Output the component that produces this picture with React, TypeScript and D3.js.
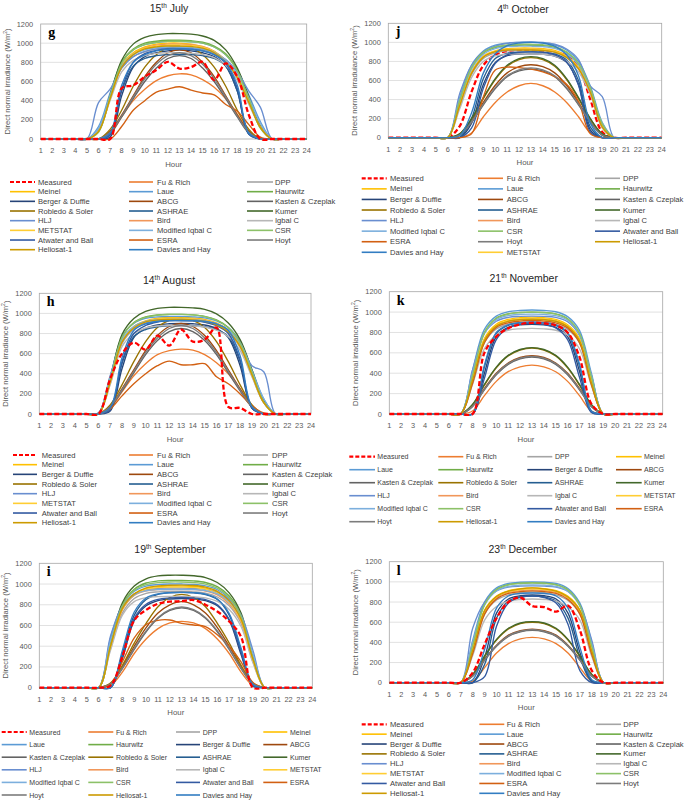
import React from "react";
import * as d3 from "d3";

const hours = [1, 2, 3, 4, 5, 6, 7, 8, 9, 10, 11, 12, 13, 14, 15, 16, 17, 18, 19, 20, 21, 22, 23, 24];
const yTicks = [0, 200, 400, 600, 800, 1000, 1200];
const gridValues = [200, 400, 600, 800, 1000];

const seriesNames = [
  "Measured", "Fu & Rich", "DPP", "Meinel", "Laue", "Haurwitz", "Berger & Duffie", "ABCG",
  "Kasten & Czeplak", "Robledo & Soler", "ASHRAE", "Kumer", "HLJ", "Bird", "Igbal C", "METSTAT",
  "Modified Iqbal C", "CSR", "Atwater and Ball", "ESRA", "Hoyt", "Heliosat-1", "Davies and Hay",
];
const seriesColors = [
  "#FF0000", "#ED7D31", "#A5A5A5", "#FFC000", "#5B9BD5", "#70AD47", "#264478", "#9E480E",
  "#636363", "#997300", "#255E91", "#43682B", "#698ED0", "#F1975A", "#B7B7B7", "#FFCD33",
  "#7CAFDD", "#8CC168", "#335AA1", "#D26012", "#7C7C7C", "#CC9A00", "#327DC2",
];
const legendOrderMain = seriesNames;
const legendOrderOctober = [
  "Measured", "Fu & Rich", "DPP", "Meinel", "Laue", "Haurwitz", "Berger & Duffie", "ABCG",
  "Kasten & Czeplak", "Robledo & Soler", "ASHRAE", "Kumer", "HLJ", "Bird", "Igbal C",
  "Modified Iqbal C", "CSR", "Atwater and Ball", "ESRA", "Hoyt", "Heliosat-1", "Davies and Hay", "METSTAT",
];

// 15th July (g) — rows in seriesNames order
const julyValues = [
  [0,0,0,0,0,0,0,530,560,650,720,805,735,750,805,615,790,650,250,0,0,0,0,0],
  [0,0,0,0,0,0,50,230,400,520,610,660,680,670,620,540,420,260,80,0,0,0,0,0],
  [0,0,0,0,0,100,430,740,860,910,940,950,950,945,930,890,800,640,380,130,0,0,0,0],
  [0,0,0,0,0,90,440,770,900,960,990,1000,1000,990,965,915,820,660,400,140,0,0,0,0],
  [0,0,0,0,0,130,480,800,930,985,1010,1020,1020,1015,1000,960,880,720,460,180,0,0,0,0],
  [0,0,0,0,0,80,450,800,940,1000,1020,1030,1030,1025,1010,970,890,720,430,120,0,0,0,0],
  [0,0,0,0,0,0,20,450,750,860,900,920,930,920,900,860,760,500,60,0,0,0,0,0],
  [0,0,0,0,0,0,80,250,450,650,800,900,930,900,800,650,450,250,80,0,0,0,0,0],
  [0,0,0,0,0,0,60,230,420,600,740,840,870,840,740,600,420,230,60,0,0,0,0,0],
  [0,0,0,0,0,0,100,300,550,750,880,950,960,950,880,750,550,300,100,0,0,0,0,0],
  [0,0,0,0,0,0,50,500,760,840,870,880,880,880,870,840,760,500,50,0,0,0,0,0],
  [0,0,0,0,0,90,460,820,990,1060,1090,1100,1100,1095,1075,1030,930,740,440,130,0,0,0,0],
  [0,0,0,0,0,380,520,740,860,915,940,950,950,945,935,900,830,700,500,330,0,0,0,0],
  [0,0,0,0,0,80,420,760,890,950,980,990,990,985,965,915,815,650,390,120,0,0,0,0],
  [0,0,0,0,0,90,400,700,820,870,893,900,900,895,882,850,770,610,360,120,0,0,0,0],
  [0,0,0,0,0,80,420,760,890,945,970,980,980,975,958,910,815,650,390,120,0,0,0,0],
  [0,0,0,0,0,110,460,760,880,930,952,960,960,955,942,905,820,680,430,160,0,0,0,0],
  [0,0,0,0,0,70,440,790,930,985,1008,1018,1020,1015,1000,960,880,710,420,110,0,0,0,0],
  [0,0,0,0,0,0,40,520,800,890,925,940,940,935,920,880,790,530,50,0,0,0,0,0],
  [0,0,0,0,0,0,0,130,300,400,490,520,545,510,480,460,360,290,150,20,0,0,0,0],
  [0,0,0,0,0,0,70,240,440,630,780,870,900,870,780,630,440,240,70,0,0,0,0,0],
  [0,0,0,0,0,80,420,750,880,940,962,970,970,965,948,900,805,640,380,120,0,0,0,0],
  [0,0,0,0,0,0,60,560,800,880,920,935,940,935,920,880,800,560,60,0,0,0,0,0],
];

// 4th October (j)
const octoberValues = [
  [0,0,0,0,0,0,120,480,760,870,910,920,920,915,900,860,740,400,60,0,0,0,0,0],
  [0,0,0,0,0,0,0,50,220,370,480,545,570,545,480,370,220,50,0,0,0,0,0,0],
  [0,0,0,0,0,0,330,660,830,890,912,920,920,915,895,840,720,470,110,0,0,0,0,0],
  [0,0,0,0,0,0,340,690,855,910,933,940,940,935,915,860,740,490,120,0,0,0,0,0],
  [0,0,0,0,0,0,420,760,910,970,992,1000,1000,995,975,920,800,540,160,0,0,0,0,0],
  [0,0,0,0,0,0,380,730,890,945,965,970,970,966,947,893,775,515,140,0,0,0,0,0],
  [0,0,0,0,0,0,0,150,560,790,860,878,880,876,855,790,560,80,0,0,0,0,0,0],
  [0,0,0,0,0,0,30,170,370,550,680,745,765,745,680,550,370,170,30,0,0,0,0,0],
  [0,0,0,0,0,0,25,160,345,515,640,700,720,700,640,515,345,160,25,0,0,0,0,0],
  [0,0,0,0,0,0,40,195,410,610,750,820,840,820,750,610,410,195,40,0,0,0,0,0],
  [0,0,0,0,0,0,0,200,620,830,885,898,900,897,878,815,600,110,0,0,0,0,0,0],
  [0,0,0,0,0,0,40,200,420,620,760,830,850,830,760,620,420,200,40,0,0,0,0,0],
  [0,0,0,0,0,0,460,760,900,960,990,1000,1005,1000,980,930,820,540,430,0,0,0,0,0],
  [0,0,0,0,0,0,340,680,850,905,924,930,930,925,905,850,730,480,115,0,0,0,0,0],
  [0,0,0,0,0,0,300,630,800,858,875,880,880,875,857,805,690,450,100,0,0,0,0,0],
  [0,0,0,0,0,0,345,685,852,908,926,932,930,926,905,850,732,483,117,0,0,0,0,0],
  [0,0,0,0,0,0,400,720,875,935,955,960,960,955,936,882,765,510,150,0,0,0,0,0],
  [0,0,0,0,0,0,390,735,895,952,973,980,980,975,955,900,780,520,145,0,0,0,0,0],
  [0,0,0,0,0,0,0,100,520,780,870,895,900,895,868,795,550,60,0,0,0,0,0,0],
  [0,0,0,0,0,0,0,40,430,710,740,735,720,690,640,560,380,40,0,0,0,0,0,0],
  [0,0,0,0,0,0,28,165,355,525,650,712,732,712,650,525,355,165,28,0,0,0,0,0],
  [0,0,0,0,0,0,335,675,845,902,920,920,920,915,897,843,725,475,112,0,0,0,0,0],
  [0,0,0,0,0,0,20,260,680,880,965,993,1000,993,960,870,650,150,0,0,0,0,0,0],
];

// 14th August (h)
const augustValues = [
  [0,0,0,0,0,0,350,600,710,640,780,680,840,720,740,860,70,60,0,0,0,0,0,0],
  [0,0,0,0,0,0,60,220,380,500,590,630,645,635,590,510,400,250,90,0,0,0,0,0],
  [0,0,0,0,0,0,300,700,840,900,925,930,930,925,912,880,810,660,380,110,0,0,0,0],
  [0,0,0,0,0,0,320,730,870,925,952,960,960,955,940,905,835,690,400,120,0,0,0,0],
  [0,0,0,0,0,10,370,770,900,950,965,970,970,966,955,925,860,720,440,150,0,0,0,0],
  [0,0,0,0,0,0,340,760,910,965,985,990,990,985,970,935,860,710,420,120,0,0,0,0],
  [0,0,0,0,0,0,30,450,760,850,885,897,900,897,885,850,760,480,60,0,0,0,0,0],
  [0,0,0,0,0,0,80,250,440,630,780,870,900,870,780,630,440,250,80,0,0,0,0,0],
  [0,0,0,0,0,0,70,230,410,590,730,820,850,820,730,590,410,230,70,0,0,0,0,0],
  [0,0,0,0,0,0,90,290,520,720,860,930,950,930,860,720,520,290,90,0,0,0,0,0],
  [0,0,0,0,0,0,50,500,770,840,868,878,880,878,868,840,770,520,60,0,0,0,0,0],
  [0,0,0,0,0,0,360,790,950,1020,1050,1060,1060,1055,1040,995,905,740,440,130,0,0,0,0],
  [0,0,0,0,0,10,380,720,850,905,925,930,930,928,920,895,835,710,480,420,0,0,0,0],
  [0,0,0,0,0,0,320,720,860,920,944,950,950,946,932,895,825,680,395,115,0,0,0,0],
  [0,0,0,0,0,0,290,670,800,855,875,880,880,876,865,835,770,630,370,110,0,0,0,0],
  [0,0,0,0,0,0,320,720,860,918,942,950,950,946,930,893,823,678,393,115,0,0,0,0],
  [0,0,0,0,0,10,360,740,870,920,936,940,940,937,926,898,835,700,430,150,0,0,0,0],
  [0,0,0,0,0,0,340,760,905,960,982,990,990,985,968,932,858,708,418,118,0,0,0,0],
  [0,0,0,0,0,0,40,520,800,880,915,928,930,928,915,880,800,540,60,0,0,0,0,0],
  [0,0,0,0,0,0,50,180,300,400,480,525,490,490,500,370,300,200,80,10,0,0,0,0],
  [0,0,0,0,0,0,75,240,425,610,755,850,880,850,755,610,425,240,75,0,0,0,0,0],
  [0,0,0,0,0,0,315,715,855,915,935,940,940,936,922,887,817,672,390,112,0,0,0,0],
  [0,0,0,0,0,0,60,560,830,895,920,928,930,928,920,895,830,580,70,0,0,0,0,0],
];

// 21th November (k)
const novemberValues = [
  [0,0,0,0,0,0,0,0,600,760,840,880,895,890,870,800,560,100,0,0,0,0,0,0],
  [0,0,0,0,0,0,0,30,180,320,415,463,480,463,415,320,180,30,0,0,0,0,0,0],
  [0,0,0,0,0,0,0,320,700,835,880,896,900,896,880,830,700,300,0,0,0,0,0,0],
  [0,0,0,0,0,0,0,340,740,880,928,945,950,945,928,876,740,320,0,0,0,0,0,0],
  [0,0,0,0,0,0,0,430,830,960,1003,1016,1020,1016,1003,955,820,400,0,0,0,0,0,0],
  [0,0,0,0,0,0,0,390,800,940,983,996,1000,996,983,935,790,370,0,0,0,0,0,0],
  [0,0,0,0,0,0,0,0,400,760,850,875,880,875,850,760,420,20,0,0,0,0,0,0],
  [0,0,0,0,0,0,0,80,250,400,500,555,572,555,500,400,250,80,0,0,0,0,0,0],
  [0,0,0,0,0,0,0,72,238,385,487,542,558,542,487,385,238,72,0,0,0,0,0,0],
  [0,0,0,0,0,0,0,90,283,452,570,628,648,628,570,452,283,90,0,0,0,0,0,0],
  [0,0,0,0,0,0,0,0,460,790,870,894,900,894,870,790,470,30,0,0,0,0,0,0],
  [0,0,0,0,0,0,0,95,290,460,575,633,652,633,575,460,290,95,0,0,0,0,0,0],
  [0,0,0,0,0,0,0,430,790,910,948,958,960,958,948,905,770,380,0,0,0,0,0,0],
  [0,0,0,0,0,0,0,330,720,860,908,925,930,925,908,855,720,310,0,0,0,0,0,0],
  [0,0,0,0,0,0,0,290,640,775,822,836,840,836,822,772,640,280,0,0,0,0,0,0],
  [0,0,0,0,0,0,0,340,730,870,918,935,940,935,918,866,730,315,0,0,0,0,0,0],
  [0,0,0,0,0,0,0,400,790,925,965,977,980,977,965,920,780,380,0,0,0,0,0,0],
  [0,0,0,0,0,0,0,380,795,940,980,995,1000,995,980,932,790,365,0,0,0,0,0,0],
  [0,0,0,0,0,0,0,0,350,730,845,880,890,880,845,730,360,15,0,0,0,0,0,0],
  [0,0,0,0,0,0,0,300,700,850,895,912,920,912,895,845,700,290,0,0,0,0,0,0],
  [0,0,0,0,0,0,0,75,243,392,494,548,565,548,494,392,243,75,0,0,0,0,0,0],
  [0,0,0,0,0,0,0,330,720,862,910,926,930,926,910,858,720,305,0,0,0,0,0,0],
  [0,0,0,0,0,0,0,0,480,800,875,895,900,895,875,800,490,30,0,0,0,0,0,0],
];

// 19th September (i)
const septemberValues = [
  [0,0,0,0,0,0,20,300,650,750,810,830,835,845,800,735,640,490,0,0,0,0,0,0],
  [0,0,0,0,0,0,20,150,330,470,570,625,640,625,570,470,330,150,20,0,0,0,0,0],
  [0,0,0,0,0,0,380,720,860,910,925,930,930,925,912,875,790,620,250,0,0,0,0,0],
  [0,0,0,0,0,0,400,760,900,955,975,980,980,976,960,920,830,650,270,0,0,0,0,0],
  [0,0,0,0,0,0,480,800,930,980,995,1000,1000,996,982,945,860,690,320,0,0,0,0,0],
  [0,0,0,0,0,0,420,800,950,1010,1030,1035,1035,1030,1015,975,885,700,290,0,0,0,0,0],
  [0,0,0,0,0,0,0,280,650,790,840,856,860,856,840,790,650,320,20,0,0,0,0,0],
  [0,0,0,0,0,0,40,200,400,580,720,800,830,800,720,580,400,200,40,0,0,0,0,0],
  [0,0,0,0,0,0,35,185,370,540,670,745,770,745,670,540,370,185,35,0,0,0,0,0],
  [0,0,0,0,0,0,45,215,430,620,780,870,900,870,780,620,430,215,45,0,0,0,0,0],
  [0,0,0,0,0,0,0,330,700,850,900,916,920,916,898,850,700,360,25,0,0,0,0,0],
  [0,0,0,0,0,0,430,820,980,1050,1078,1085,1085,1080,1062,1015,915,720,300,0,0,0,0,0],
  [0,0,0,0,0,0,500,790,905,945,958,960,960,957,948,920,850,700,360,0,0,0,0,0],
  [0,0,0,0,0,0,390,750,890,935,946,950,950,946,932,895,810,640,265,0,0,0,0,0],
  [0,0,0,0,0,0,360,700,830,868,878,880,880,877,866,832,755,590,240,0,0,0,0,0],
  [0,0,0,0,0,0,395,760,900,950,965,970,970,966,951,912,825,648,268,0,0,0,0,0],
  [0,0,0,0,0,0,450,770,895,935,947,950,950,947,937,905,830,670,320,0,0,0,0,0],
  [0,0,0,0,0,0,410,790,940,995,1013,1020,1020,1015,1000,960,870,690,285,0,0,0,0,0],
  [0,0,0,0,0,0,0,300,670,805,852,866,870,866,850,800,660,340,20,0,0,0,0,0],
  [0,0,0,0,0,0,30,250,480,610,650,653,620,605,590,510,400,250,50,0,0,0,0,0],
  [0,0,0,0,0,0,38,190,378,548,678,752,778,752,678,548,378,190,38,0,0,0,0,0],
  [0,0,0,0,0,0,400,765,905,963,982,988,990,986,970,930,840,660,275,0,0,0,0,0],
  [0,0,0,0,0,0,0,360,730,865,905,917,920,917,902,855,715,380,30,0,0,0,0,0],
];

// 23th December (l)
const decemberValues = [
  [0,0,0,0,0,0,0,100,380,640,800,845,760,750,705,765,520,120,0,0,0,0,0,0],
  [0,0,0,0,0,0,0,15,150,295,388,435,450,435,388,295,150,15,0,0,0,0,0,0],
  [0,0,0,0,0,0,0,300,680,820,870,893,900,893,870,815,680,290,0,0,0,0,0,0],
  [0,0,0,0,0,0,0,320,720,860,912,933,940,933,912,856,720,310,0,0,0,0,0,0],
  [0,0,0,0,0,0,0,420,800,940,985,997,1000,997,985,935,790,400,0,0,0,0,0,0],
  [0,0,0,0,0,0,0,380,780,925,972,986,990,986,972,920,770,370,0,0,0,0,0,0],
  [0,0,0,0,0,0,0,0,250,690,830,862,870,862,830,690,300,20,0,0,0,0,0,0],
  [0,0,0,0,0,0,0,70,232,372,472,517,532,517,472,372,232,70,0,0,0,0,0,0],
  [0,0,0,0,0,0,0,65,222,362,460,505,520,505,460,362,222,65,0,0,0,0,0,0],
  [0,0,0,0,0,0,0,80,260,422,532,586,600,586,532,422,260,80,0,0,0,0,0,0],
  [0,0,0,0,0,0,0,0,180,640,810,850,860,850,810,640,250,10,0,0,0,0,0,0],
  [0,0,0,0,0,0,0,82,265,430,540,592,605,592,540,430,265,82,0,0,0,0,0,0],
  [0,0,0,0,0,0,0,540,800,910,948,958,960,958,948,905,770,420,0,0,0,0,0,0],
  [0,0,0,0,0,0,0,310,700,843,895,914,920,914,895,838,700,300,0,0,0,0,0,0],
  [0,0,0,0,0,0,0,270,620,755,808,825,830,825,808,750,620,260,0,0,0,0,0,0],
  [0,0,0,0,0,0,0,315,710,850,903,923,930,923,903,846,710,305,0,0,0,0,0,0],
  [0,0,0,0,0,0,0,400,770,910,955,967,970,967,955,905,760,380,0,0,0,0,0,0],
  [0,0,0,0,0,0,0,370,775,922,970,984,990,984,970,918,765,360,0,0,0,0,0,0],
  [0,0,0,0,0,0,0,0,60,560,790,845,858,845,790,580,120,0,0,0,0,0,0,0],
  [0,0,0,0,0,0,0,290,680,830,885,903,910,903,885,825,680,280,0,0,0,0,0,0],
  [0,0,0,0,0,0,0,67,226,367,465,510,525,510,465,367,226,67,0,0,0,0,0,0],
  [0,0,0,0,0,0,0,320,715,855,908,930,940,930,908,850,715,310,0,0,0,0,0,0],
  [0,0,0,0,0,0,0,30,330,740,860,885,890,885,860,740,350,30,0,0,0,0,0,0],
];

const yLabelStd = "Direct normal irradiance (W/m";
const yLabelOct = "Direct normal irraduiance (W/m";

const panels = [
  { id: "g", left: 40.7, top: 24, right: 306.7, bottom: 139, titleX: 169, titleY: 8, title: ["15", "th", " July"], yLabel: yLabelStd, data: julyValues, measuredOnTop: true,
    legend: { y0: 182, dy: 9.67, fs: 7.6, order: legendOrderMain, cols: [[10, 35, 38], [129, 153, 157], [247, 273, 275]] } },
  { id: "j", left: 388.3, top: 23.3, right: 661.7, bottom: 137.7, titleX: 523, titleY: 9.3, title: ["4", "th", " October"], yLabel: yLabelOct, data: octoberValues, measuredOnTop: false,
    legend: { y0: 178.3, dy: 10.57, fs: 7.6, order: legendOrderOctober, cols: [[361.7, 386.7, 390], [478, 503, 506.7], [595, 620, 623]] } },
  { id: "h", left: 39.3, top: 293.3, right: 311, bottom: 414, titleX: 169, titleY: 280, title: ["14", "th", " August"], yLabel: yLabelStd, data: augustValues, measuredOnTop: true,
    legend: { y0: 455, dy: 9.67, fs: 7.6, order: legendOrderMain, cols: [[13, 37, 41.7], [129, 153, 157], [243, 268, 272]] } },
  { id: "k", left: 389.3, top: 291.7, right: 662.7, bottom: 414, titleX: 523.7, titleY: 278.3, title: ["21", "th", " November"], yLabel: yLabelStd, data: novemberValues, measuredOnTop: true,
    legend: { y0: 456.7, dy: 13, fs: 7, order: legendOrderMain, cols: [[349.3, 375, 377.3], [438.3, 463.3, 466], [527.3, 552.3, 555], [616, 641.7, 644]] } },
  { id: "i", left: 39.3, top: 563.3, right: 312.3, bottom: 687.7, titleX: 170, titleY: 549.3, title: ["19", "th", " September"], yLabel: yLabelStd, data: septemberValues, measuredOnTop: true,
    legend: { y0: 732, dy: 12.6, fs: 7, order: legendOrderMain, cols: [[1.7, 26.7, 29.3], [88.3, 113.3, 116], [176, 200, 202.7], [263.3, 287.3, 290]] } },
  { id: "l", left: 389.3, top: 561.7, right: 663.3, bottom: 682.7, titleX: 522.7, titleY: 549.3, title: ["23", "th", " December"], yLabel: yLabelStd, data: decemberValues, measuredOnTop: true,
    legend: { y0: 724.3, dy: 9.86, fs: 7.6, order: legendOrderMain, cols: [[361.7, 386.7, 390], [479.3, 504.3, 506.7], [596, 621, 623.3]] } },
];

const FONT = "'Liberation Sans', Arial, sans-serif";

function Panel({ p }: { p: any }) {
  const x = d3.scaleLinear().domain([1, 24]).range([p.left, p.right]);
  const y = d3.scaleLinear().domain([0, 1200]).range([p.bottom, p.top]);
  const line = d3
    .line<number>()
    .x((_, i) => x(hours[i]))
    .y((d) => y(d))
    .curve(d3.curveCatmullRom.alpha(0.5));
  const others = d3.range(1, seriesNames.length);
  const drawOrder = p.measuredOnTop ? others.concat([0]) : [0].concat(others);
  const clipId = "clip-" + p.id;
  const ncols = p.legend.cols.length;
  return (
    <g fontFamily={FONT}>
      <defs>
        <clipPath id={clipId}>
          <rect x={p.left} y={p.top - 6} width={p.right - p.left} height={p.bottom - p.top + 8} />
        </clipPath>
      </defs>
      {gridValues.map((v) => (
        <line key={v} x1={p.left} x2={p.right} y1={y(v)} y2={y(v)} stroke="#D9D9D9" strokeWidth={0.8} />
      ))}
      <rect x={p.left} y={p.top} width={p.right - p.left} height={p.bottom - p.top} fill="none" stroke="#A6A6A6" strokeWidth={0.8} />
      <g clipPath={`url(#${clipId})`}>
        {drawOrder.map((si) => (
          <path
            key={si}
            d={line(p.data[si]) || ""}
            fill="none"
            stroke={seriesColors[si]}
            strokeWidth={si === 0 ? 2.3 : 1.35}
            strokeDasharray={si === 0 ? "5,2.5" : undefined}
          />
        ))}
      </g>
      {yTicks.map((v) => (
        <text key={v} x={p.left - 7.5} y={y(v)} textAnchor="end" dominantBaseline="central" fontSize={7.4} fill="#595959">
          {v}
        </text>
      ))}
      {hours.map((h) => (
        <text key={h} x={x(h)} y={p.bottom + 11.7} textAnchor="middle" dominantBaseline="central" fontSize={7.4} fill="#595959">
          {h}
        </text>
      ))}
      <text x={(p.left + p.right) / 2} y={p.bottom + 25} textAnchor="middle" dominantBaseline="central" fontSize={7.8} fill="#595959">
        Hour
      </text>
      <text
        transform={`translate(${p.left - 33.5},${(p.top + p.bottom) / 2}) rotate(-90)`}
        textAnchor="middle"
        dominantBaseline="central"
        fontSize={7.6}
        fill="#595959"
      >
        {p.yLabel}
        <tspan fontSize={5} dy={-2.5}>2</tspan>
        <tspan dy={2.5}>)</tspan>
      </text>
      <text x={p.titleX} y={p.titleY} textAnchor="middle" dominantBaseline="central" fontSize={10.5} fill="#262626">
        {p.title[0]}
        <tspan fontSize={6.5} dy={-3.5}>{p.title[1]}</tspan>
        <tspan dy={3.5}>{p.title[2]}</tspan>
      </text>
      <text x={p.left + 7.5} y={p.top + 13} fontFamily="'Liberation Serif', 'Times New Roman', serif" fontWeight="bold" fontSize={14} fill="#000">
        {p.id}
      </text>
      {p.legend.order.map((name: string, k: number) => {
        const si = seriesNames.indexOf(name);
        const col = p.legend.cols[k % ncols];
        const ly = p.legend.y0 + Math.floor(k / ncols) * p.legend.dy;
        return (
          <g key={name}>
            <line
              x1={col[0]}
              x2={col[1]}
              y1={ly}
              y2={ly}
              stroke={seriesColors[si]}
              strokeWidth={si === 0 ? 2.2 : 1.6}
              strokeDasharray={si === 0 ? "4,2" : undefined}
            />
            <text x={col[2]} y={ly} dominantBaseline="central" fontSize={p.legend.fs} fill="#404040">
              {name}
            </text>
          </g>
        );
      })}
    </g>
  );
}

export default function App() {
  return (
    <svg width={685} height={800} viewBox="0 0 685 800" style={{ position: "absolute", left: 0, top: 0, background: "#fff" }}>
      <rect x={0} y={0} width={685} height={800} fill="#fff" />
      {panels.map((p) => (
        <Panel key={p.id} p={p} />
      ))}
    </svg>
  );
}
